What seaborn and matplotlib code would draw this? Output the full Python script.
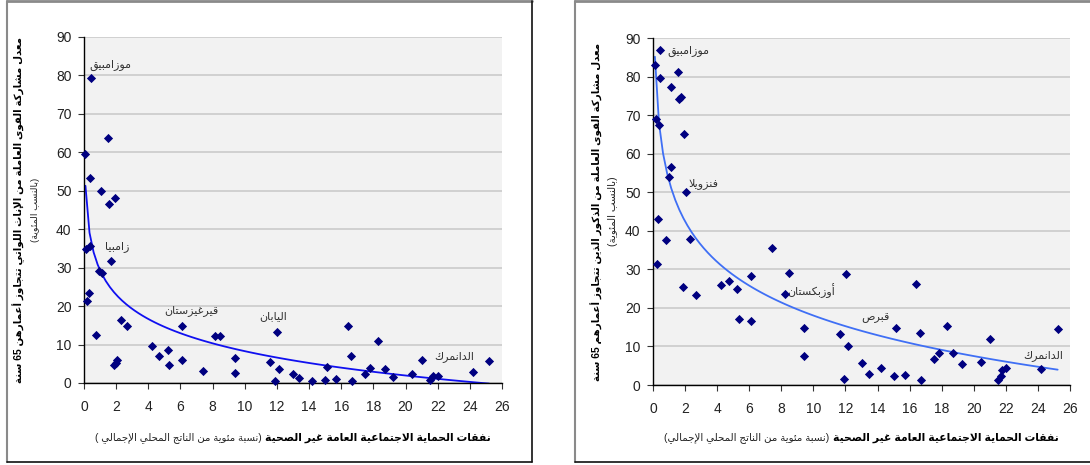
import re
import numpy as np
import pandas as pd
import matplotlib
matplotlib.use("Agg")
import matplotlib.pyplot as plt
from matplotlib.lines import Line2D
import seaborn as sns

# ---------------- data ----------------
female_x = [0.09, 0.43, 0.39, 1.52, 1.07, 1.58, 1.90, 0.10, 0.36, 0.28, 0.17, 1.70, 0.96, 1.10,
            0.77, 1.88, 2.00, 2.08, 2.29, 2.65, 4.24, 4.67, 5.20, 5.30, 6.12, 6.12, 7.43, 8.17,
            8.47, 9.39, 9.39, 11.6, 12.0, 11.88, 12.1, 13.0, 13.4, 14.2, 15.0, 15.1, 15.7, 16.4,
            16.6, 16.7, 17.5, 17.8, 18.3, 18.7, 19.2, 20.4, 21.0, 21.5, 21.7, 22.0, 24.2, 25.2]
female_y = [59.4, 79.2, 53.4, 63.7, 50.0, 46.4, 48.0, 34.8, 35.7, 23.5, 21.2, 31.7, 29.2, 28.7,
            12.6, 4.8, 5.3, 5.9, 16.3, 14.8, 9.6, 6.9, 8.5, 4.8, 14.8, 6.1, 3.0, 12.2,
            12.3, 6.5, 2.6, 5.4, 13.2, 0.5, 3.7, 2.3, 1.4, 0.5, 0.9, 4.2, 1.0, 14.8,
            7.1, 0.5, 2.4, 4.0, 10.9, 3.7, 1.6, 2.3, 6.0, 0.9, 1.9, 1.8, 2.9, 5.6]

male_x = [0.44, 0.12, 0.44, 1.56, 1.12, 1.62, 1.75, 0.19, 0.40, 1.91, 1.14, 1.02, 2.08, 0.31,
          0.79, 2.33, 0.25, 1.89, 2.68, 4.26, 4.72, 5.22, 5.35, 6.14, 6.14, 7.43, 8.22, 8.51,
          9.42, 9.42, 11.65, 12.06, 12.13, 11.92, 13.02, 13.46, 14.23, 15.0, 15.12, 15.72, 16.41,
          16.62, 16.72, 17.5, 17.85, 18.32, 18.72, 19.24, 20.42, 21.03, 21.53, 21.69, 21.74,
          22.03, 24.2, 25.23]
male_y = [86.9, 83.0, 79.6, 81.2, 77.3, 74.2, 74.7, 69.0, 67.6, 65.1, 56.6, 54.1, 50.0, 43.2,
          37.7, 37.9, 31.5, 25.5, 23.3, 26.0, 26.9, 24.8, 17.1, 28.4, 16.5, 35.6, 23.6, 29.2,
          14.7, 7.4, 13.2, 28.7, 10.1, 1.5, 5.6, 2.9, 4.5, 2.4, 14.7, 2.6, 26.3,
          13.5, 1.4, 6.7, 8.4, 15.4, 8.2, 5.5, 5.9, 12.0, 1.3, 2.4, 4.0,
          4.4, 4.2, 14.5]

female_labels = ["موزامبيق", "زامبيا", "قيرغيزستان", "اليابان", "الدانمرك"]
male_labels = ["موزامبيق", "فنزويلا", "أوزبكستان", "قبرص", "الدانمرك"]

x_ticks = list(range(0, 27, 2))
y_ticks = list(range(0, 91, 10))

female_ylabel = "معدل مشاركة القوى العاملة من الإناث اللواتي تتجاوز أعمارهن 65 سنة"
male_ylabel = "معدل مشاركة القوى العاملة من الذكور الذين تتجاوز أعمارهم 65 سنة"
ylabel_unit = "(بالنسب المئوية)"
xlabel_bold = "نفقات الحماية الاجتماعية العامة غير الصحية"
female_xlabel_reg = "(نسبة مئوية من الناتج المحلي الإجمالي )"
male_xlabel_reg = "(نسبة مئوية من الناتج المحلي الإجمالي)"

# label anchor positions (layout)
female_label_pos = [(0.35, 82.5), (1.3, 35.4), (4.98, 18.8), (10.9, 17.5), (21.8, 7.0)]
male_label_pos = [(0.87, 86.7), (2.24, 52.4), (8.4, 24.6), (13.0, 17.4), (23.1, 7.6)]

# ---------------- minimal Arabic shaping + visual ordering ----------------
_DUAL = {'ئ': 0xFE89, 'ب': 0xFE8F, 'ت': 0xFE95, 'ث': 0xFE99, 'ج': 0xFE9D, 'ح': 0xFEA1,
         'خ': 0xFEA5, 'س': 0xFEB1, 'ش': 0xFEB5, 'ص': 0xFEB9, 'ض': 0xFEBD, 'ط': 0xFEC1,
         'ظ': 0xFEC5, 'ع': 0xFEC9, 'غ': 0xFECD, 'ف': 0xFED1, 'ق': 0xFED5, 'ك': 0xFED9,
         'ل': 0xFEDD, 'م': 0xFEE1, 'ن': 0xFEE5, 'ه': 0xFEE9, 'ي': 0xFEF1}
_RIGHT = {'آ': 0xFE81, 'أ': 0xFE83, 'ؤ': 0xFE85, 'إ': 0xFE87, 'ا': 0xFE8D, 'ة': 0xFE93,
          'د': 0xFEA9, 'ذ': 0xFEAB, 'ر': 0xFEAD, 'ز': 0xFEAF, 'و': 0xFEED, 'ى': 0xFEEF}
FORMS = {}
for c, b in _DUAL.items():
    FORMS[c] = (chr(b), chr(b + 1), chr(b + 2), chr(b + 3))
for c, b in _RIGHT.items():
    FORMS[c] = (chr(b), chr(b + 1), None, None)
FORMS['ء'] = ('\uFE80', None, None, None)
LAMALEF = {'آ': ('\uFEF5', '\uFEF6'), 'أ': ('\uFEF7', '\uFEF8'),
           'إ': ('\uFEF9', '\uFEFA'), 'ا': ('\uFEFB', '\uFEFC')}


def _shape(s):
    out = []
    n = len(s)
    i = 0
    dual = lambda ch: ch in FORMS and FORMS[ch][2] is not None
    joinable = lambda ch: ch in FORMS and FORMS[ch][1] is not None
    while i < n:
        c = s[i]
        if c not in FORMS:
            out.append(c)
            i += 1
            continue
        prev = s[i - 1] if i > 0 else ''
        jp = dual(prev)
        if c == 'ل' and i + 1 < n and s[i + 1] in LAMALEF:
            iso, fin = LAMALEF[s[i + 1]]
            out.append(fin if jp else iso)
            i += 2
            continue
        nxt = s[i + 1] if i + 1 < n else ''
        jn = dual(c) and joinable(nxt)
        iso, fin, ini, med = FORMS[c]
        if jp and jn:
            out.append(med)
        elif jp:
            out.append(fin)
        elif jn:
            out.append(ini)
        else:
            out.append(iso)
        i += 1
    return ''.join(out)


def ar(s):
    toks = re.findall(r'\d+|.', _shape(s))
    toks = toks[::-1]
    swap = {'(': ')', ')': '('}
    return ''.join(swap.get(t, t) for t in toks)


# ---------------- style ----------------
sns.set_theme(style="white")
plt.rcParams['font.family'] = ['Liberation Sans', 'DejaVu Sans']
plt.rcParams['axes.unicode_minus'] = False

W, H = 1090, 465
fig = plt.figure(figsize=(W / 100, H / 100), dpi=100)
fig.patch.set_facecolor('white')
renderer = fig.canvas.get_renderer()


def px_axes(l, t, r, b):
    return fig.add_axes([l / W, 1 - b / H, (r - l) / W, (b - t) / H])


def fit_size(t, target, vertical=False):
    ext = t.get_window_extent(renderer)
    cur = ext.height if vertical else ext.width
    t.set_fontsize(t.get_fontsize() * target / cur)


ax_f = px_axes(84, 36.7, 502, 383)
ax_m = px_axes(653, 38.3, 1070, 385)

panels = [
    (ax_f, female_x, female_y, female_labels, female_label_pos, '#1010F0',
     female_ylabel, female_xlabel_reg, 19, 36, 348, 64, 397),
    (ax_m, male_x, male_y, male_labels, male_label_pos, '#3F6FF5',
     male_ylabel, male_xlabel_reg, 597, 613, 338, 70, 395),
]

for (ax, xs, ys, labels, lpos, lcol, ylab, xreg, ylx1, ylx2,
     ylen, ulen, xlen) in panels:
    df = pd.DataFrame({'x': xs, 'y': ys})
    ax.set_facecolor('#F2F2F2')
    ax.set_xlim(0, 26)
    ax.set_ylim(0, 90)
    ax.set_yticks(y_ticks)
    ax.set_xticks(x_ticks)
    ax.grid(axis='y', color='#C8C8C8', linewidth=1.1)
    ax.grid(axis='x', visible=False)
    ax.set_axisbelow(True)
    for side in ['top', 'right']:
        ax.spines[side].set_visible(False)
    for side in ['left', 'bottom']:
        ax.spines[side].set_color('black')
        ax.spines[side].set_linewidth(1.0)
    ax.tick_params(axis='both', which='major', direction='out', length=4, width=0.8,
                   color='#333333', labelsize=10, labelcolor='#222222', pad=5,
                   left=True, bottom=True)
    ax.tick_params(axis='x', pad=8)

    sns.regplot(data=df, x='x', y='y', logx=True, scatter=False, ci=None, truncate=True,
                ax=ax, line_kws={'color': lcol, 'linewidth': 1.3})
    sns.scatterplot(data=df, x='x', y='y', ax=ax, marker='D', s=22, color='#000080',
                    edgecolor='#000080', linewidth=0, zorder=5, clip_on=False)
    ax.set_xlabel('')
    ax.set_ylabel('')

    for name, (lx, ly) in zip(labels, lpos):
        ax.text(lx, ly, ar(name), ha='left', va='center', fontsize=8, color='#333333')

    # y-label: bold line + unit line
    bb = ax.get_position()
    cy = (bb.y0 + bb.y1) / 2
    t1 = fig.text(ylx1 / W, cy, ar(ylab), rotation=90, ha='center', va='center',
                  fontsize=9, fontweight='bold', color='black')
    fit_size(t1, ylen, vertical=True)
    t2 = fig.text(ylx2 / W, cy, ar(ylabel_unit), rotation=90, ha='center', va='center',
                  fontsize=8.5, color='#222222')
    fit_size(t2, ulen, vertical=True)

    # x-label: regular (left) + bold (right), centered under the axes
    cx = (bb.x0 + bb.x1) / 2 * W
    ypos = 1 - 438 / H
    t_reg = fig.text(0, ypos, ar(xreg), ha='left', va='center', fontsize=8.5, color='#222222')
    t_bold = fig.text(0, ypos, ar(xlabel_bold), ha='left', va='center', fontsize=9,
                      fontweight='bold', color='black')
    gap = 4
    wr = t_reg.get_window_extent(renderer).width
    wb = t_bold.get_window_extent(renderer).width
    k = (xlen - gap) / (wr + wb)
    t_reg.set_fontsize(8.5 * k)
    t_bold.set_fontsize(9 * k)
    wr = t_reg.get_window_extent(renderer).width
    wb = t_bold.get_window_extent(renderer).width
    left = cx - (wr + wb + gap) / 2
    t_reg.set_x(left / W)
    t_bold.set_x((left + wr + gap) / W)


# panel frames: gray top/left, black right/bottom
def fline(x0, y0, x1, y1, c, lw):
    fig.add_artist(Line2D([x0 / W, x1 / W], [1 - y0 / H, 1 - y1 / H], color=c, lw=lw,
                          transform=fig.transFigure))


for (l, t, r, b) in [(7, 1.5, 532, 462), (575, 1.5, 1095, 462)]:
    fline(l, t, r, t, '#8A8A8A', 2.0)
    fline(l, t, l, b, '#8A8A8A', 1.5)
    fline(r, t, r, b, '#111111', 1.2)
    fline(l, b, r, b, '#111111', 1.2)

fig.savefig('out.png', dpi=100)
